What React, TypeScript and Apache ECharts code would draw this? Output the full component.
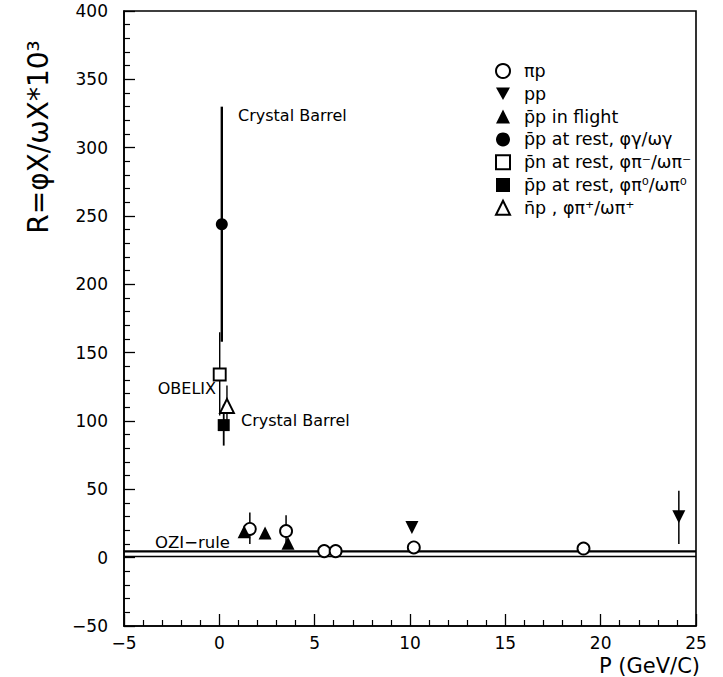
import React, { useEffect, useRef } from "react";
import * as echarts from "echarts";

// ---- data (x = P in GeV/c, y = R x 10^3) ----
const piP = [[1.6, 21], [3.5, 19.5], [5.5, 4.8], [6.1, 4.8], [10.2, 7.5], [19.1, 6.7]];
const piPErr = [[1.6, 10, 33], [3.5, 8, 31]];
const pp = [[10.1, 22], [24.1, 30]];
const ppErr = [[24.1, 10, 49]];
const ppbarFlight = [[1.3, 19], [2.4, 18], [3.6, 10.5]];
const ppbarRestGamma = [[0.13, 244]];
const ppbarRestGammaErr = [[0.13, 158, 330]];
const pnbarRestPiMinus = [[0.02, 134]];
const pnbarRestPiMinusErr = [[0.02, 104, 165]];
const ppbarRestPi0 = [[0.23, 97]];
const ppbarRestPi0Err = [[0.23, 82, 112]];
const nbarpPiPlus = [[0.4, 111]];
const nbarpPiPlusErr = [[0.4, 96, 126]];
const oziUpper = [[-5, 4.6], [25, 4.6]];
const oziLower = [[-5, 0.9], [25, 0.9]];

const names = [
  "πp",
  "pp",
  "p̄p in flight",
  "p̄p at rest, φγ/ωγ",
  "p̄n at rest, φπ⁻/ωπ⁻",
  "p̄p at rest, φπ⁰/ωπ⁰",
  "n̄p , φπ⁺/ωπ⁺",
];

const FONT = "DejaVu Sans";
const INK = "#000";
const INV_TRI = "path://M0,0 L10,0 L5,9 Z";

function errSeries(data: number[][], width: number) {
  return {
    type: "custom",
    silent: true,
    z: 2,
    data,
    encode: { x: 0, y: [1, 2] },
    renderItem: (_p: any, api: any) => {
      const x = api.value(0);
      const a = api.coord([x, api.value(1)]);
      const b = api.coord([x, api.value(2)]);
      return {
        type: "line",
        shape: { x1: a[0], y1: a[1], x2: b[0], y2: b[1] },
        style: { stroke: INK, lineWidth: width },
      };
    },
  };
}

function scatter(name: string, data: number[][], symbol: string, open: boolean, size: number) {
  return {
    type: "scatter",
    name,
    data,
    symbol,
    symbolSize: size,
    z: 5,
    itemStyle: open
      ? { color: "#fff", borderColor: INK, borderWidth: 1.9, opacity: 1 }
      : { color: INK, borderColor: INK, borderWidth: 0, opacity: 1 },
  };
}

const fmt = (v: number) => (v < 0 ? "\u2212" + Math.abs(v) : String(v));

export default function App() {
  const ref = useRef<HTMLDivElement>(null);
  useEffect(() => {
    if (!ref.current) return;
    const chart = echarts.init(ref.current, undefined, { renderer: "svg" });
    chart.setOption({
      animation: false,
      backgroundColor: "#fff",
      textStyle: { fontFamily: FONT, color: INK },
      grid: {
        left: 124,
        right: 27,
        top: 11,
        bottom: 51,
        show: true,
        borderColor: INK,
        borderWidth: 1.6,
        backgroundColor: "transparent",
      },
      legend: {
        data: names,
        orient: "vertical",
        left: 490,
        top: 57,
        itemWidth: 14,
        itemHeight: 14,
        itemGap: 4.8,
        selectedMode: false,
        textStyle: {
          fontFamily: FONT,
          fontSize: 17.5,
          lineHeight: 16,
          color: INK,
          padding: [0, 0, 0, 9],
        },
      },
      xAxis: {
        type: "value",
        min: -5,
        max: 25,
        interval: 5,
        axisLine: { show: true, onZero: false, lineStyle: { color: INK, width: 1.6 } },
        axisTick: { show: true, inside: true, length: 12, lineStyle: { color: INK, width: 1.3 } },
        minorTick: { show: true, splitNumber: 5, length: 6, lineStyle: { color: INK, width: 1.2 } },
        splitLine: { show: false },
        axisLabel: { fontSize: 17, color: INK, fontFamily: FONT, margin: 8, formatter: fmt },
      },
      yAxis: {
        type: "value",
        min: -50,
        max: 400,
        interval: 50,
        axisLine: { show: true, onZero: false, lineStyle: { color: INK, width: 1.6 } },
        axisTick: { show: true, inside: true, length: 11, lineStyle: { color: INK, width: 1.3 } },
        minorTick: { show: true, splitNumber: 5, length: 6, lineStyle: { color: INK, width: 1.2 } },
        splitLine: { show: false },
        axisLabel: { fontSize: 17, color: INK, fontFamily: FONT, margin: 16, formatter: fmt },
      },
      graphic: [
        {
          type: "text",
          x: 38,
          y: 137,
          rotation: Math.PI / 2,
          style: {
            text: "R=φX/ωX*10³",
            font: `28px '${FONT}'`,
            fill: INK,
            textAlign: "center",
            textVerticalAlign: "middle",
          },
        },
        {
          type: "text",
          x: 700,
          y: 666,
          style: {
            text: "P (GeV/C)",
            font: `21px '${FONT}'`,
            fill: INK,
            textAlign: "right",
            textVerticalAlign: "middle",
          },
        },
        {
          type: "text",
          x: 238,
          y: 115,
          style: { text: "Crystal Barrel", font: `16px '${FONT}'`, fill: INK, textVerticalAlign: "middle" },
        },
        {
          type: "text",
          x: 216,
          y: 388,
          style: { text: "OBELIX", font: `16px '${FONT}'`, fill: INK, textAlign: "right", textVerticalAlign: "middle" },
        },
        {
          type: "text",
          x: 241,
          y: 420,
          style: { text: "Crystal Barrel", font: `16px '${FONT}'`, fill: INK, textVerticalAlign: "middle" },
        },
        {
          type: "text",
          x: 155,
          y: 542,
          style: { text: "OZI\u2212rule", font: `16.5px '${FONT}'`, fill: INK, textVerticalAlign: "middle" },
        },
      ],
      series: [
        {
          type: "line",
          data: oziUpper,
          symbol: "none",
          silent: true,
          z: 1,
          lineStyle: { color: INK, width: 2.2 },
        },
        {
          type: "line",
          data: oziLower,
          symbol: "none",
          silent: true,
          z: 1,
          lineStyle: { color: INK, width: 1.6 },
        },
        errSeries(piPErr, 1.5),
        errSeries(ppErr, 1.5),
        errSeries(ppbarRestGammaErr, 2.4),
        errSeries(pnbarRestPiMinusErr, 1.4),
        errSeries(ppbarRestPi0Err, 1.8),
        errSeries(nbarpPiPlusErr, 1.4),
        scatter(names[0], piP, "circle", true, 12),
        scatter(names[1], pp, INV_TRI, false, 13),
        scatter(names[2], ppbarFlight, "triangle", false, 13),
        scatter(names[3], ppbarRestGamma, "circle", false, 12),
        scatter(names[4], pnbarRestPiMinus, "rect", true, 12),
        scatter(names[5], ppbarRestPi0, "rect", false, 12),
        scatter(names[6], nbarpPiPlus, "triangle", true, 14),
      ],
    });
    return () => chart.dispose();
  }, []);
  return (
    <div
      ref={ref}
      style={{ position: "fixed", left: 0, top: 0, width: 723, height: 677, background: "#fff" }}
    />
  );
}
